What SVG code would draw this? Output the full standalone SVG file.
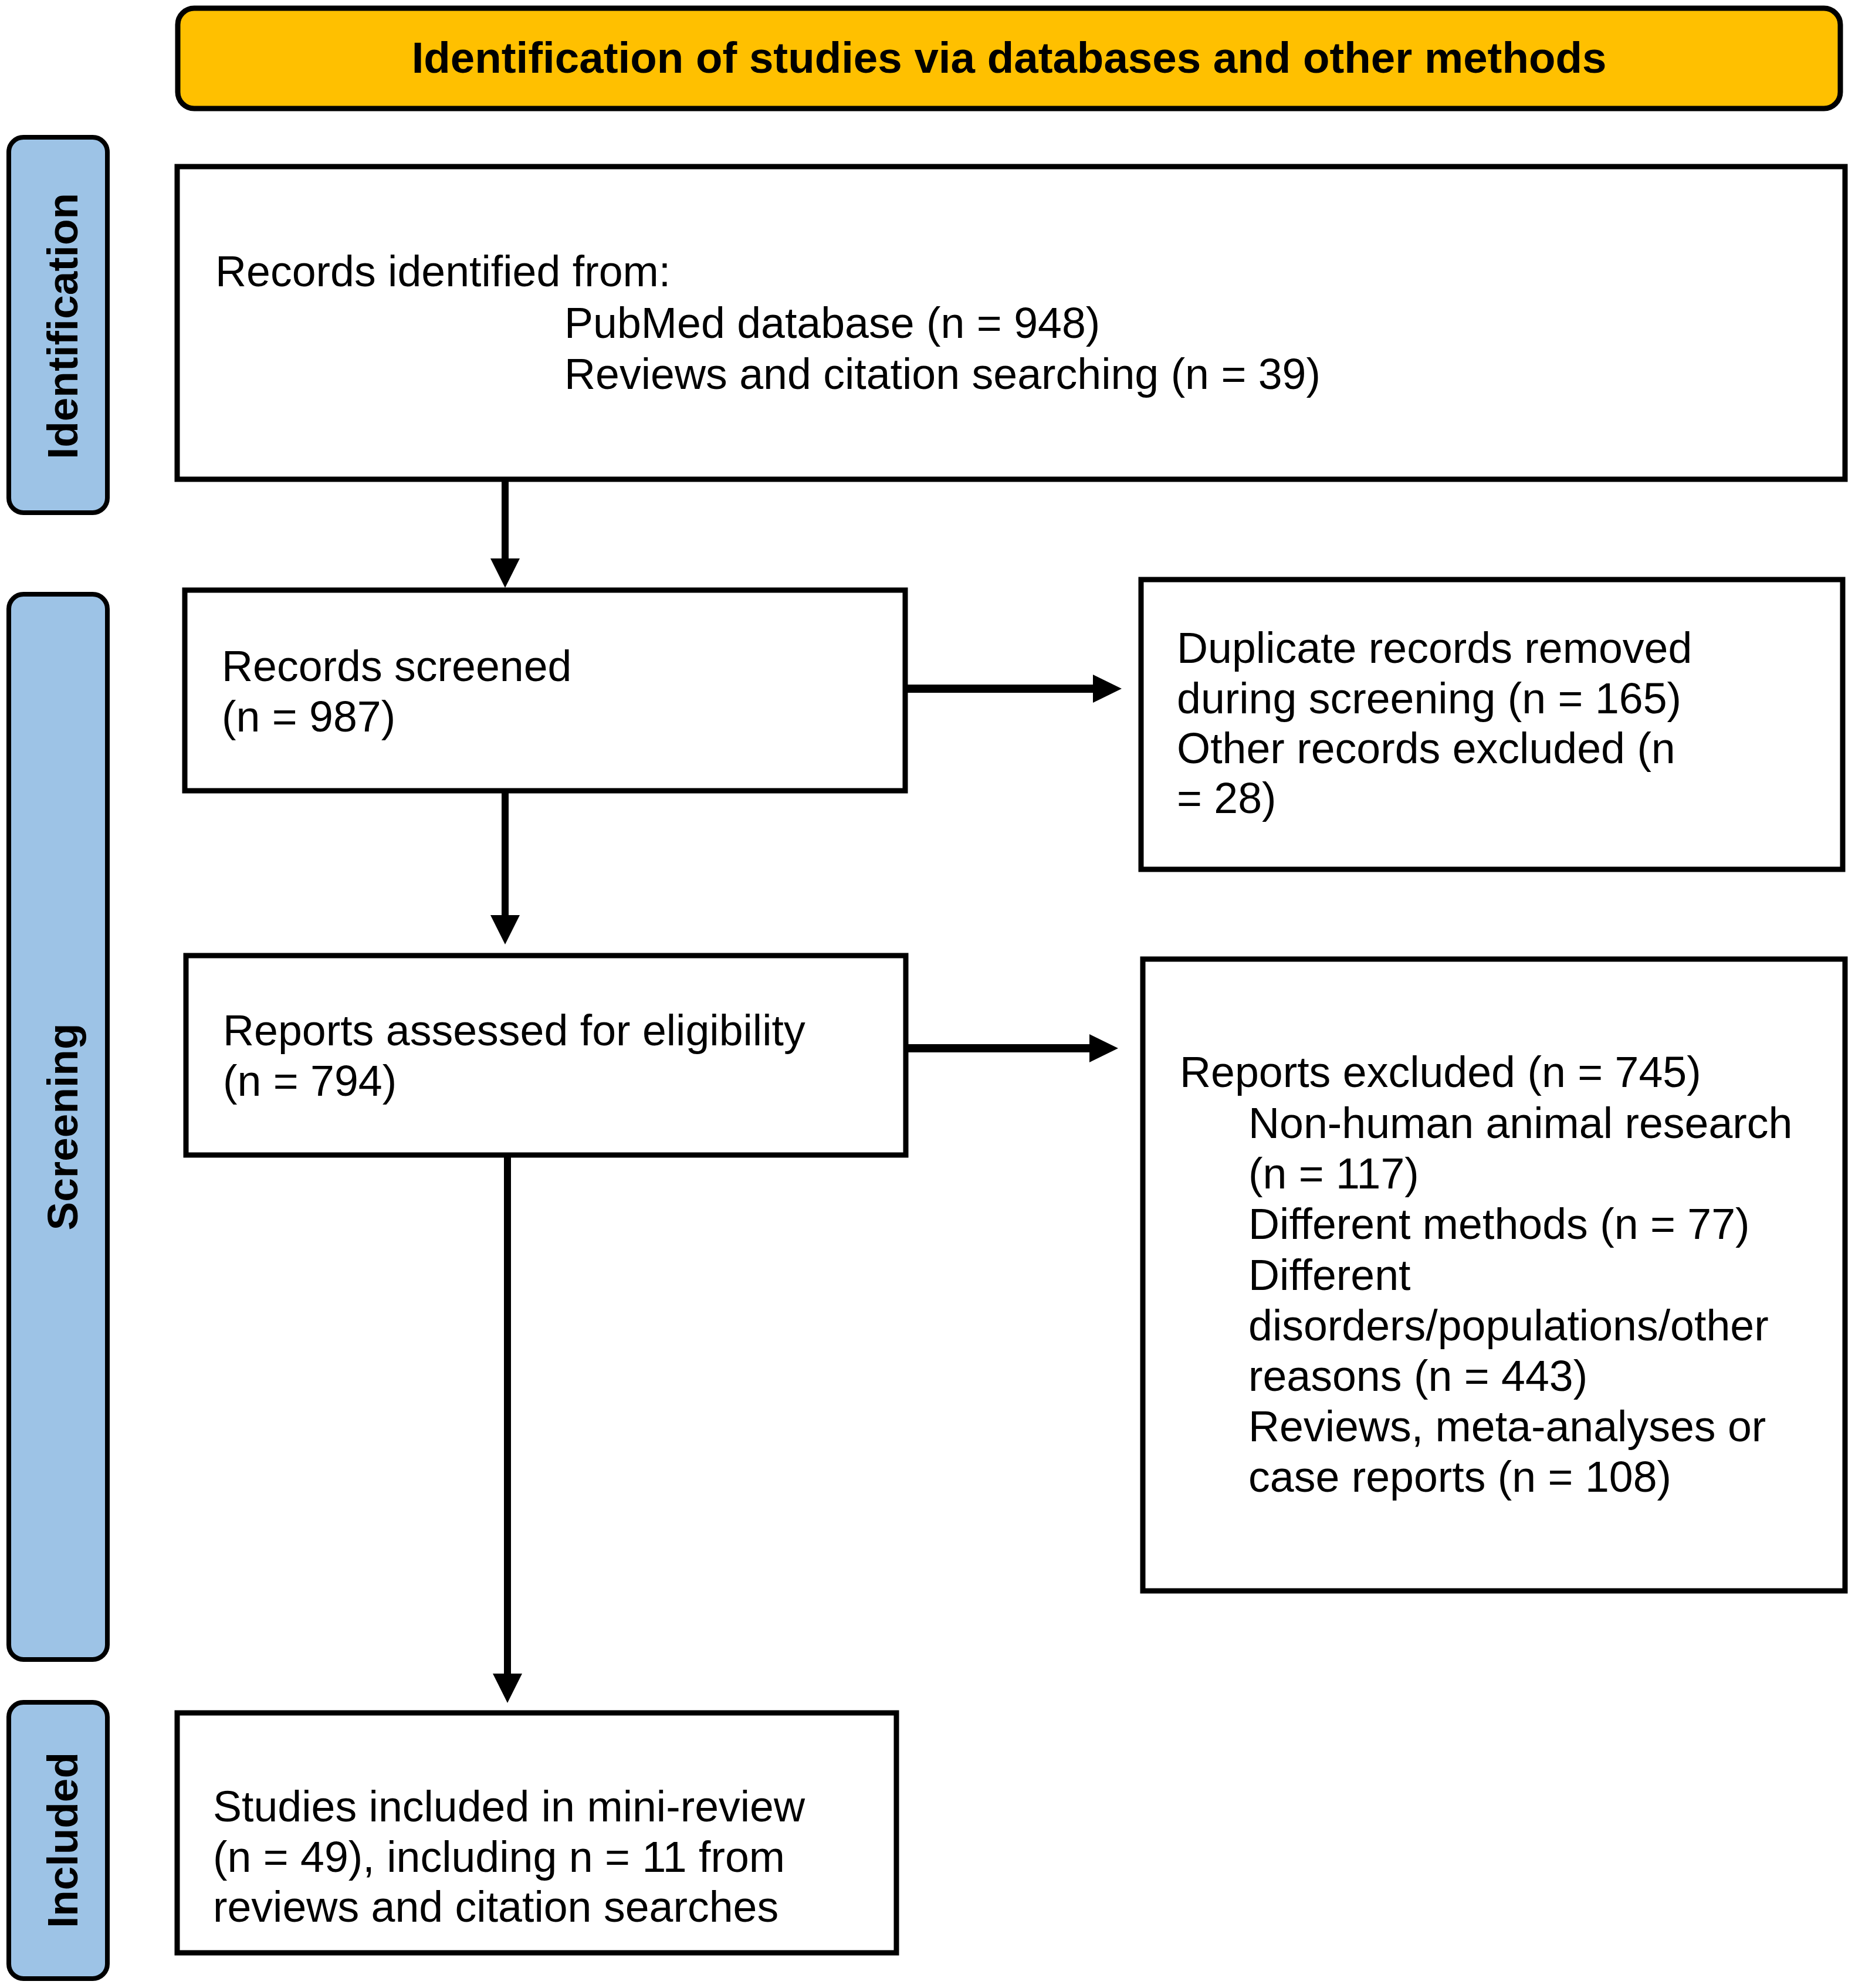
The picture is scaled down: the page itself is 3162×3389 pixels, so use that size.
<svg xmlns="http://www.w3.org/2000/svg" width="3162" height="3389" viewBox="0 0 3162 3389">
<style>
.box{fill:#ffffff;stroke:#000000;stroke-width:9}
.side{fill:#9DC3E6;stroke:#000000;stroke-width:8}
.head{fill:#FFC000;stroke:#000000;stroke-width:9}
.t{font-family:"Liberation Sans",Arial,sans-serif;font-size:73.5px;fill:#000000}
.b{font-family:"Liberation Sans",Arial,sans-serif;font-size:73px;font-weight:bold;fill:#000000}
.hb{font-family:"Liberation Sans",Arial,sans-serif;font-size:74.5px;font-weight:bold;fill:#000000}
.ln{stroke:#000000;stroke-width:12;fill:none}
.ah{fill:#000000}
</style>
<rect width="3162" height="3389" fill="#ffffff"/>
<g id="header">
<rect class="head" x="303" y="14" width="2834" height="171" rx="28"/>
<text class="hb" x="1720" y="124" text-anchor="middle">Identification of studies via databases and other methods</text>
</g>
<g id="side-identification">
<rect class="side" x="15" y="234" width="168" height="640" rx="25"/>
<text class="b" transform="translate(132,556) rotate(-90)" text-anchor="middle">Identification</text>
</g>
<g id="side-screening">
<rect class="side" x="15" y="1013" width="168" height="1816" rx="25"/>
<text class="b" transform="translate(132,1921) rotate(-90)" text-anchor="middle">Screening</text>
</g>
<g id="side-included">
<rect class="side" x="15" y="2902" width="168" height="471" rx="25"/>
<text class="b" transform="translate(132,3137) rotate(-90)" text-anchor="middle">Included</text>
</g>
<g id="records-identified">
<rect class="box" x="302" y="284" width="2843" height="533"/>
<text class="t" x="367" y="488">Records identified from:</text>
<text class="t" x="962" y="576">PubMed database (n = 948)</text>
<text class="t" x="962" y="663">Reviews and citation searching (n = 39)</text>
</g>
<g id="records-screened">
<rect class="box" x="315" y="1006" width="1228" height="342"/>
<text class="t" x="378" y="1161">Records screened</text>
<text class="t" x="378" y="1247">(n = 987)</text>
</g>
<g id="duplicates-removed">
<rect class="box" x="1945" y="988" width="1196" height="494"/>
<text class="t" x="2006" y="1130">Duplicate records removed</text>
<text class="t" x="2006" y="1216">during screening (n = 165)</text>
<text class="t" x="2006" y="1301">Other records excluded (n</text>
<text class="t" x="2006" y="1386">= 28)</text>
</g>
<g id="reports-assessed">
<rect class="box" x="317" y="1629" width="1227" height="340"/>
<text class="t" x="380" y="1782">Reports assessed for eligibility</text>
<text class="t" x="380" y="1868">(n = 794)</text>
</g>
<g id="reports-excluded">
<rect class="box" x="1948" y="1635" width="1197" height="1077"/>
<text class="t" x="2011" y="1853">Reports excluded (n = 745)</text>
<text class="t" x="2128" y="1940">Non-human animal research</text>
<text class="t" x="2128" y="2026">(n = 117)</text>
<text class="t" x="2128" y="2112">Different methods (n = 77)</text>
<text class="t" x="2128" y="2199">Different</text>
<text class="t" x="2128" y="2285">disorders/populations/other</text>
<text class="t" x="2128" y="2371">reasons (n = 443)</text>
<text class="t" x="2128" y="2457">Reviews, meta-analyses or</text>
<text class="t" x="2128" y="2543">case reports (n = 108)</text>
</g>
<g id="studies-included">
<rect class="box" x="302" y="2920" width="1226" height="409"/>
<text class="t" x="363" y="3105">Studies included in mini-review</text>
<text class="t" x="363" y="3191">(n = 49), including n = 11 from</text>
<text class="t" x="363" y="3276">reviews and citation searches</text>
</g>
<g id="connectors">
<line class="ln" x1="861" y1="817" x2="861" y2="955"/>
<polygon class="ah" points="836,952 886,952 861,1002"/>
<line class="ln" x1="861" y1="1348" x2="861" y2="1563"/>
<polygon class="ah" points="836,1560 886,1560 861,1610"/>
<line class="ln" x1="865" y1="1969" x2="865" y2="2856"/>
<polygon class="ah" points="840,2853 890,2853 865,2903"/>
<line class="ln" x1="1543" y1="1174" x2="1866" y2="1174" style="stroke-width:14"/>
<polygon class="ah" points="1863,1150 1863,1198 1912,1174"/>
<line class="ln" x1="1544" y1="1787" x2="1860" y2="1787" style="stroke-width:14"/>
<polygon class="ah" points="1857,1763 1857,1811 1906,1787"/>
</g>
</svg>
